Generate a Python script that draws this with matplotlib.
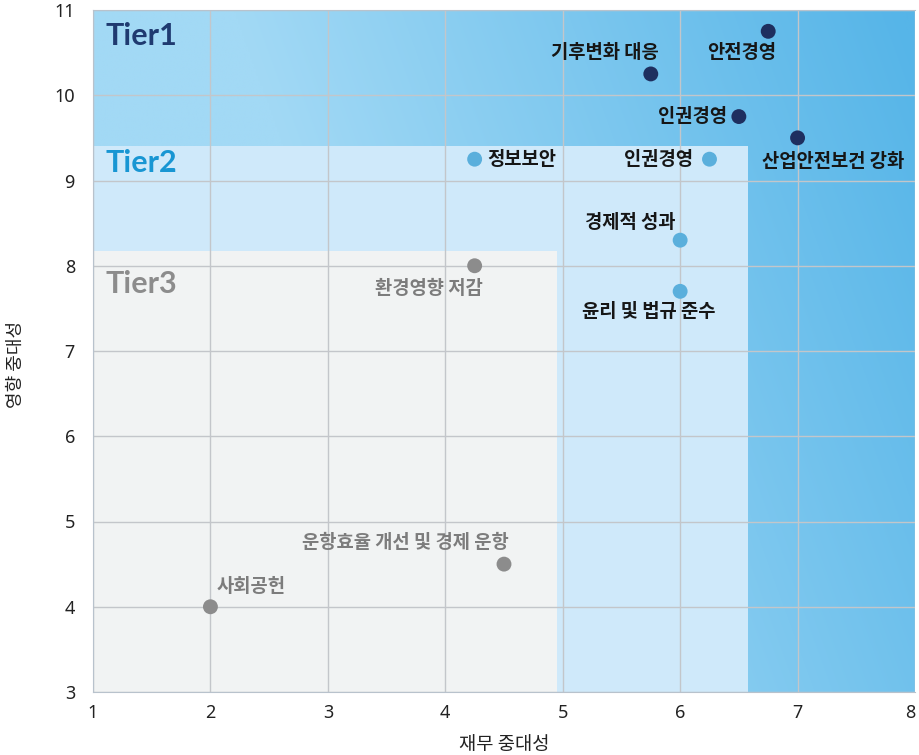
import numpy as np
import matplotlib
matplotlib.use("Agg")
import matplotlib.pyplot as plt
from matplotlib.patches import Rectangle
from matplotlib.colors import to_rgb

plt.rcParams['font.family'] = ['Noto Sans CJK KR', 'DejaVu Sans']

# 이슈별 재무 중대성(x) / 영향 중대성(y)
issues = ['안전경영', '기후변화 대응', '인권경영', '산업안전보건 강화',
          '인권경영', '정보보안', '경제적 성과', '윤리 및 법규 준수',
          '환경영향 저감', '운항효율 개선 및 경제 운항', '사회공헌']
fin_score = [6.75, 5.75, 6.5, 7.0, 6.25, 4.25, 6.0, 6.0, 4.25, 4.5, 2.0]
imp_score = [10.75, 10.25, 9.75, 9.5, 9.25, 9.25, 8.3, 7.7, 8.0, 4.5, 4.0]
tier = [1, 1, 1, 1, 2, 2, 2, 2, 3, 3, 3]

# 라벨 위치 (점 기준 픽셀 오프셋, 정렬)
label_pos = [(-27, -21, 'center'), (8, 21, 'right'), (-12, 0, 'right'),
             (36, -24, 'center'), (-16, 0, 'right'), (13, 0, 'left'),
             (-5, 18, 'right'), (-31, -20, 'center'), (-46, -23, 'center'),
             (5, 22, 'right'), (6, 20, 'left')]

# 구간 경계
tier1_min_y = 9.4
tier2_max_x, tier3_max_x, tier3_max_y = 6.58, 4.955, 8.17

point_colors = {1: '#1e2f5f', 2: '#5aafdc', 3: '#8c8c8c'}
text_colors = {1: '#161616', 2: '#161616', 3: '#7c7c7c'}

fig = plt.figure(figsize=(9.2, 7.55), dpi=100)
ax = fig.add_axes([93 / 920, 63 / 755, 822 / 920, 682 / 755])
ax.set_xlim(1, 8)
ax.set_ylim(3, 11)

# Tier1 배경 그라디언트
u = np.linspace(0, 1, 400)
v = np.linspace(1, 0, 400)
U, V = np.meshgrid(u, v)
t = np.clip(1.236 * U + 0.373 * V - 0.586, 0, 1)[..., None]
light = np.array(to_rgb('#a2d9f5'))
dark = np.array(to_rgb('#56b5e8'))
ax.imshow(light + t * (dark - light), extent=[1, 8, 3, 11], aspect='auto',
          zorder=0.1, interpolation='bilinear')

ax.add_patch(Rectangle((1, 3), tier2_max_x - 1, tier1_min_y - 3,
                       facecolor='#cfe9fa', edgecolor='none', zorder=0.2))
ax.add_patch(Rectangle((1, 3), tier3_max_x - 1, tier3_max_y - 3,
                       facecolor='#f1f3f3', edgecolor='none', zorder=0.3))

ax.set_axisbelow(True)
ax.grid(True, color='#c3c6ca', linewidth=1)

for i, name in enumerate(issues):
    ax.scatter(fin_score[i], imp_score[i], s=115, color=point_colors[tier[i]],
               edgecolors='none', zorder=3)
    dx, dy, ha = label_pos[i]
    ax.annotate(name, (fin_score[i], imp_score[i]), xytext=(dx, dy),
                textcoords='offset pixels', ha=ha, va='center',
                fontsize=13.5, fontweight='bold', color=text_colors[tier[i]],
                zorder=4)

ax.text(1.11, 10.69, 'Tier1', fontsize=22, fontweight='bold', color='#1f3a70',
        family='Lato', va='center', ha='left')
ax.text(1.11, 9.21, 'Tier2', fontsize=22, fontweight='bold', color='#1896d3',
        family='Lato', va='center', ha='left')
ax.text(1.11, 7.79, 'Tier3', fontsize=22, fontweight='bold', color='#8c8c8c',
        family='Lato', va='center', ha='left')

ax.set_xticks(range(1, 9))
ax.set_yticks(range(3, 12))
ax.tick_params(length=0, labelsize=13, colors='#222222')
ax.tick_params(axis='y', pad=13)
ax.tick_params(axis='x', pad=9)
for lbl in ax.get_xticklabels() + ax.get_yticklabels():
    lbl.set_family('Noto Sans')
ax.get_xticklabels()[-1].set_horizontalalignment('right')

for side in ['left', 'bottom', 'top']:
    ax.spines[side].set_color('#b8c2cc')
ax.spines['right'].set_visible(False)

ax.set_xlabel('재무 중대성', fontsize=13.5, color='#222222')
ax.set_ylabel('영향 중대성', fontsize=13, color='#222222')
ax.xaxis.set_label_coords(0.5, -0.061)
ax.yaxis.set_label_coords(-0.083, 0.48)

fig.savefig('out.png', dpi=100)
